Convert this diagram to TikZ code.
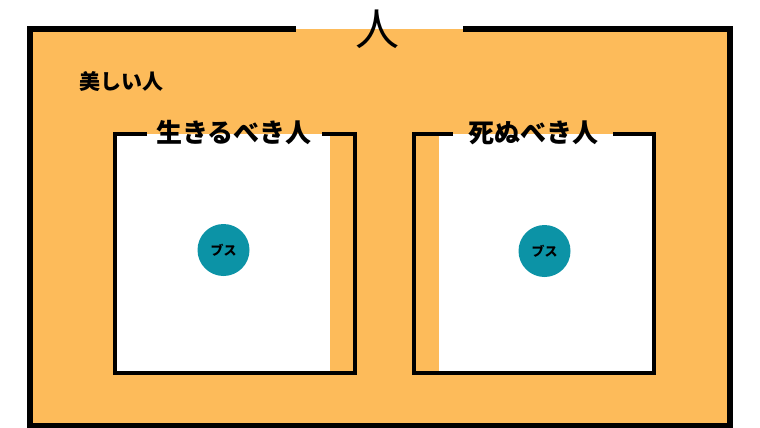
\documentclass[tikz,border=0pt]{standalone}
\usepackage{fontspec}
\newfontfamily\jp{Noto Sans CJK JP}
\definecolor{orangefill}{HTML}{FDBB5A}
\definecolor{tealfill}{HTML}{0C93A6}
\begin{document}
\begin{tikzpicture}[x=1pt,y=-1pt,
  outerline/.style={line width=6pt,line join=miter},
  boxline/.style={line width=4pt,line join=miter},
  title/.style={font=\jp\bfseries\fontsize{26}{28}\selectfont,inner sep=0pt},
  dot/.style={circle,fill=tealfill,minimum size=52pt,inner sep=0pt,font=\jp\bfseries\fontsize{13}{14}\selectfont}]
\useasboundingbox (0,0) rectangle (760,428);
% outer
\fill[orangefill] (30,29.5) rectangle (730,425.5);
\draw[outerline] (296,29.5) -- (30,29.5) -- (30,425.5) -- (730,425.5) -- (730,29.5) -- (463,29.5);
\node[inner sep=0pt,font=\jp\fontsize{44}{46}\selectfont] (top) at (377,29) {人};
\node[inner sep=0pt,font=\jp\bfseries\fontsize{21}{22}\selectfont] (beauty) at (121,81) {美しい人};
% left box
\fill[white] (115,134) rectangle (330,373);
\draw[boxline] (147,134) -- (115,134) -- (115,373) -- (355,373) -- (355,134) -- (322,134);
\node[title] (live) at (234,133) {生きるべき人};
\node[dot] (b1) at (223.5,250) {ブス};
% right box
\fill[white] (439,134) rectangle (654,373);
\draw[boxline] (453,134) -- (414,134) -- (414,373) -- (654,373) -- (654,134) -- (613,134);
\node[title] (die) at (533,133) {死ぬべき人};
\node[dot] (b2) at (544.5,251) {ブス};
\end{tikzpicture}
\end{document}
